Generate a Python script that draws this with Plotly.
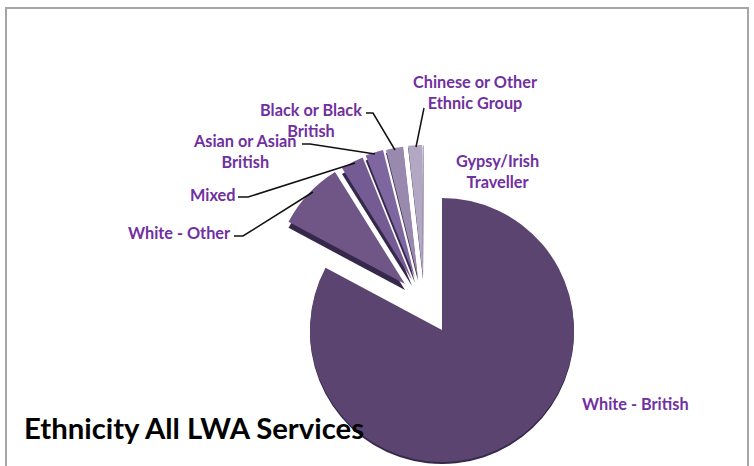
import plotly.graph_objects as go

W, H = 754, 466

# Data (percent of service users)
categories = ["White - British", "White - Other", "Mixed", "Asian or Asian British",
              "Black or Black British", "Chinese or Other Ethnic Group", "Gypsy/Irish Traveller"]
values = [82.8, 8.3, 2.8, 2.2, 2.1, 1.7, 0.1]
title_text = "Ethnicity All LWA Services"

# Style and layout (exploded slices: apex pixel of each slice)
colors = ["#5b4570", "#6f5687", "#755b93", "#7e66a0", "#9a89ae", "#b2a8c3", "#c9c2d6"]
apex = [(442, 330), (405, 284), (412, 280), (415, 278), (418, 278), (423, 277), (424, 277)]
RADIUS = 132
DEPTH = [2, 6, 6, 5, 3, 2, 1]
SHADOW = "#35284a"
CLEAR = "rgba(0,0,0,0)"
LABEL = "#7030a0"
FONT = "Lato, Carlito, Calibri, sans-serif"


def domain(cx, cy, r):
    return dict(x=[(cx - r) / W, (cx + r) / W], y=[1 - (cy + r) / H, 1 - (cy - r) / H])


def slice_trace(i, cx, cy, color, start):
    rest = sum(values) - values[i]
    return go.Pie(
        labels=[categories[i], ""], values=[values[i], rest],
        rotation=start, sort=False, direction="clockwise",
        domain=domain(cx, cy, RADIUS), textinfo="none", showlegend=False,
        marker=dict(colors=[color, CLEAR], line=dict(width=0)),
        hoverinfo="skip",
    )


total = sum(values)
starts = []
running = 0
for v in values:
    starts.append(running / total * 360)
    running += v

fig = go.Figure()
for i in range(len(values)):
    fig.add_trace(slice_trace(i, apex[i][0], apex[i][1] + DEPTH[i], SHADOW, starts[i]))
for i in range(len(values)):
    fig.add_trace(slice_trace(i, apex[i][0], apex[i][1], colors[i], starts[i]))

text_spots = [
    ("White - British", 635, 403),
    ("White - Other", 179, 232),
    ("Mixed", 212, 194),
    ("Asian or Asian<br>British", 245, 151),
    ("Black or Black<br>British", 311, 120),
    ("Chinese or Other<br>Ethnic Group", 475, 92),
    ("Gypsy/Irish<br>Traveller", 497, 171),
]
annotations = [
    dict(text=t, x=x / W, y=1 - y / H, xref="paper", yref="paper", xanchor="center", yanchor="middle",
         showarrow=False, align="center", font=dict(family=FONT, size=16.3, color=LABEL, weight="bold"))
    for t, x, y in text_spots
]
annotations.append(dict(text=title_text, x=22 / W, y=1 - 427 / H, xref="paper", yref="paper",
                        xanchor="left", yanchor="middle", showarrow=False,
                        font=dict(family=FONT, size=29.3, color="#000000", weight="bold")))

leaders = [
    [(234, 236), (243, 236), (313, 192)],
    [(238, 197), (248, 197), (355, 163)],
    [(302, 144), (310, 144), (375, 154)],
    [(366, 113), (373, 113), (395, 150)],
    [(424, 108), (416, 147)],
]
shapes = [dict(type="rect", xref="paper", yref="paper", x0=6 / W, x1=748 / W, y0=-0.05, y1=1 - 8 / H,
               line=dict(color="#a6a6a6", width=2), layer="below")]
for pts in leaders:
    path = "M " + " L ".join(f"{x / W},{1 - y / H}" for x, y in pts)
    shapes.append(dict(type="path", path=path, xref="paper", yref="paper",
                       line=dict(color="#111111", width=1.5), layer="above"))

fig.update_layout(width=W, height=H, margin=dict(l=0, r=0, t=0, b=0),
                  paper_bgcolor="white", plot_bgcolor="white",
                  showlegend=False, annotations=annotations, shapes=shapes)

fig.write_html("out.html", config={"displayModeBar": False},
               post_script="document.body.style.margin='0';document.body.style.overflow='hidden';")
